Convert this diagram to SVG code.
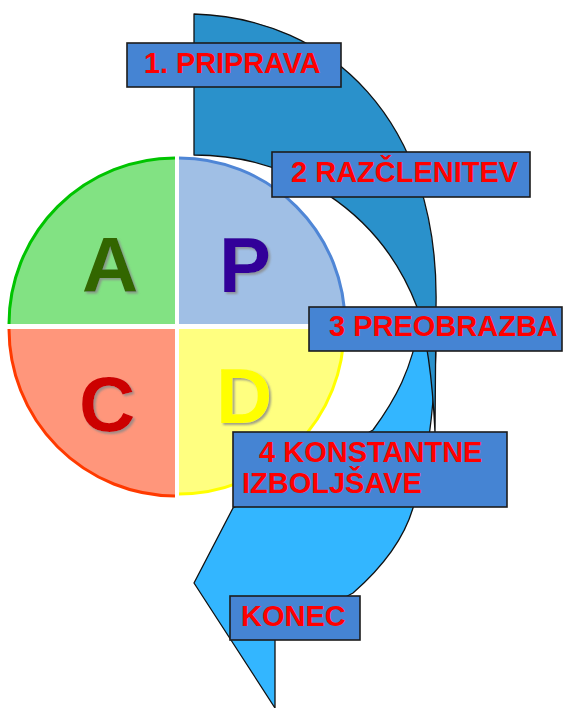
<svg xmlns="http://www.w3.org/2000/svg" width="563" height="708" viewBox="0 0 563 708">
<defs>
<filter id="shadow" x="-20%" y="-20%" width="140%" height="140%"><feDropShadow dx="2" dy="2" stdDeviation="0.8" flood-color="#888" flood-opacity="0.8"/></filter>
</defs>
<style>
.arrow{stroke:#111;stroke-width:1.3;stroke-linejoin:round}
.box{fill:#4584D3;stroke:#1c1c1c;stroke-width:1.6}
.lbl{font-family:"Liberation Sans",Arial,sans-serif;font-weight:bold;fill:#FF0000;font-size:29px}
.big{font-family:"Liberation Sans",Arial,sans-serif;font-weight:bold;font-size:78px;filter:url(#shadow)}
</style>
<rect width="563" height="708" fill="#fff"/>
<g id="connectors">
<path id="arrow-light" class="arrow" fill="#33B6FF" d="M420,320 L436,320 C437,380 430,460 413,508 C405,535 385,565 353,593 L340,600 L275,620 L275,708 L194,583 L233,508 L373,430 C395,400 412,370 420,320 Z"/>
<path id="arrow-dark" class="arrow" fill="#2A91CB" d="M194,14 C330,18 440,120 436,307 L435,432 C433,390 428,340 417,307 C380,210 290,155 194,155 Z"/>
</g>
<g id="pdca">
<g id="q-A"><path d="M175,324 L9,324 A166,166 0 0 1 175,158 Z" fill="#82E283"/><path d="M9,324 A166,166 0 0 1 175,158" fill="none" stroke="#00C400" stroke-width="3"/><text class="big" x="82" y="292" fill="#336600">A</text></g>
<g id="q-P"><path d="M179,324 L179,158 A166,166 0 0 1 345,324 Z" fill="#A0BFE5"/><path d="M179,158 A166,166 0 0 1 345,324" fill="none" stroke="#4F86D6" stroke-width="3"/><text class="big" x="219" y="292" fill="#330099">P</text></g>
<g id="q-C"><path d="M175,329 L175,496 A167,167 0 0 1 9,329 Z" fill="#FF967B"/><path d="M175,496 A167,167 0 0 1 9,329" fill="none" stroke="#FF3A00" stroke-width="3"/><text class="big" x="79" y="431" fill="#CC0000">C</text></g>
<g id="q-D"><path d="M179,329 L344,329 A165,165 0 0 1 179,494 Z" fill="#FFFF80"/><path d="M344,329 A165,165 0 0 1 179,494" fill="none" stroke="#FFFF00" stroke-width="3"/><text class="big" x="216" y="423" fill="#FFFF00">D</text></g>
</g>
<g id="box1"><rect class="box" x="127" y="43" width="214" height="44"/><text class="lbl" x="144" y="73" style="font-size:28.8px">1. PRIPRAVA</text></g>
<g id="box2"><rect class="box" x="272" y="152" width="258" height="45"/><text class="lbl" x="291" y="182">2 RAZČLENITEV</text></g>
<g id="box3"><rect class="box" x="309" y="307" width="253" height="44"/><text class="lbl" x="329" y="336">3 PREOBRAZBA</text></g>
<g id="box4"><rect class="box" x="233" y="432" width="274" height="75"/><text class="lbl" x="259" y="462">4 KONSTANTNE</text><text class="lbl" x="242" y="493">IZBOLJŠAVE</text></g>
<g id="box5"><rect class="box" x="230" y="596" width="130" height="44"/><text class="lbl" x="241" y="626">KONEC</text></g>
</svg>
